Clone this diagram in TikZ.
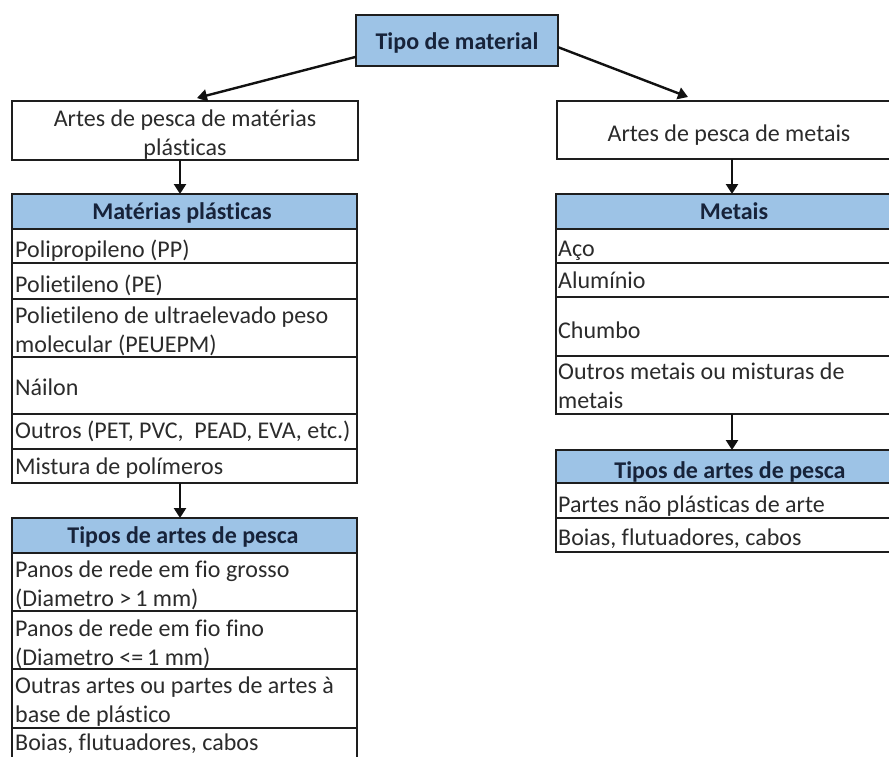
\documentclass[tikz,border=0pt]{standalone}
\usepackage{fontspec}
\setmainfont{Carlito}[Ligatures=NoCommon]
\usetikzlibrary{arrows.meta,calc}
\definecolor{hdrblue}{HTML}{9DC3E6}
\definecolor{txtc}{HTML}{2B2B2B}
\definecolor{hdrtxt}{HTML}{17233A}
\definecolor{bordc}{HTML}{1E1E1E}
\definecolor{arrc}{HTML}{111111}
\begin{document}
\begin{tikzpicture}[x=1pt,y=-1pt,
  every node/.style={font=\fontsize{24}{29}\selectfont},
  cell/.style={draw=bordc, line width=1.3pt, fill=white, anchor=north west, inner sep=0pt, outer sep=0pt},
  hdr/.style={cell, fill=hdrblue},
  ctext/.style={anchor=base west, inner sep=0pt, align=left, text=txtc},
  btext/.style={anchor=base, inner sep=0pt, align=center, text=txtc},
  htext/.style={anchor=base, inner sep=0pt, text=hdrtxt, font=\fontsize{24}{29}\selectfont\bfseries},
  arr/.style={draw=arrc, line width=2.4pt, -{Triangle[width=12pt,length=10pt]}},
]
\useasboundingbox (0,0) rectangle (889,756);
\clip (0,0) rectangle (889,756);
\fill[white] (0,0) rectangle (889,756);

% top box
\node[hdr, minimum width=202pt, minimum height=51pt] (top) at (356,15) {};
\node[htext] (ttop) at (457,49) {Tipo de material};

% second level boxes
\node[cell, minimum width=346pt, minimum height=59pt] (abox) at (12,101) {};
\node[btext] (tabox) at (185,155) {Artes de pesca de matérias\\plásticas};
\node[cell, minimum width=360pt, minimum height=58pt] (mbox) at (557,101) {};
\node[btext] (tmbox) at (729,141) {Artes de pesca de metais};

% left table: materias plasticas
\node[hdr, minimum width=345pt, minimum height=35pt] (lh) at (12,194) {};
\node[htext] (tlh) at (182,219) {Matérias plásticas};
\node[cell, minimum width=345pt, minimum height=34pt] (l1) at (12,229) {};
\node[ctext] (tl1) at (15,257) {Polipropileno (PP)};
\node[cell, minimum width=345pt, minimum height=36pt] (l2) at (12,263) {};
\node[ctext] (tl2) at (15,292) {Polietileno (PE)};
\node[cell, minimum width=345pt, minimum height=58pt] (l3) at (12,299) {};
\node[ctext] (tl3) at (15,352) {Polietileno de ultraelevado peso\\molecular (PEUEPM)};
\node[cell, minimum width=345pt, minimum height=57pt] (l4) at (12,357) {};
\node[ctext] (tl4) at (15,395) {Náilon};
\node[cell, minimum width=345pt, minimum height=35pt] (l5) at (12,414) {};
\node[ctext] (tl5) at (15,438) {Outros (PET, PVC,\ \ PEAD, EVA, etc.)};
\node[cell, minimum width=345pt, minimum height=34pt] (l6) at (12,449) {};
\node[ctext] (tl6) at (15,474) {Mistura de polímeros};

% left table: tipos
\node[hdr, minimum width=345pt, minimum height=35pt] (lth) at (12,518) {};
\node[htext] (tlth) at (183,543) {Tipos de artes de pesca};
\node[cell, minimum width=345pt, minimum height=58pt] (lt1) at (12,553) {};
\node[ctext] (tlt1) at (15,606) {Panos de rede em fio grosso\\(Diametro >\,1 mm)};
\node[cell, minimum width=345pt, minimum height=58pt] (lt2) at (12,611) {};
\node[ctext] (tlt2) at (15,665) {Panos de rede em fio fino\\(Diametro <=\,1 mm)};
\node[cell, minimum width=345pt, minimum height=59pt] (lt3) at (12,669) {};
\node[ctext] (tlt3) at (15,722) {Outras artes ou partes de artes à\\base de plástico};
\node[cell, minimum width=345pt, minimum height=34pt] (lt4) at (12,728) {};
\node[ctext] (tlt4) at (15,750) {Boias, flutuadores, cabos};

% right table: metais
\node[hdr, minimum width=360pt, minimum height=35pt] (rh) at (556,194) {};
\node[htext] (trh) at (734,219) {Metais};
\node[cell, minimum width=360pt, minimum height=34pt] (r1) at (556,229) {};
\node[ctext] (tr1) at (558,256) {Aço};
\node[cell, minimum width=360pt, minimum height=34pt] (r2) at (556,263) {};
\node[ctext] (tr2) at (558,288) {Alumínio};
\node[cell, minimum width=360pt, minimum height=59pt] (r3) at (556,297) {};
\node[ctext] (tr3) at (558,338) {Chumbo};
\node[cell, minimum width=360pt, minimum height=58pt] (r4) at (556,356) {};
\node[ctext] (tr4) at (558,408) {Outros metais ou misturas de\\metais};

% right table: tipos
\node[hdr, minimum width=360pt, minimum height=33pt] (rth) at (556,450) {};
\node[htext] (trth) at (730,478) {Tipos de artes de pesca};
\node[cell, minimum width=360pt, minimum height=35pt] (rt1) at (556,483) {};
\node[ctext] (trt1) at (558,512) {Partes não plásticas de arte};
\node[cell, minimum width=360pt, minimum height=34pt] (rt2) at (556,518) {};
\node[ctext] (trt2) at (558,545) {Boias, flutuadores, cabos};

% connectors
\draw[arr] ($(top.south west)!0.18!(top.north west)$) -- ($(abox.north)+(12,-3)$);
\draw[arr] ($(top.south east)!0.37!(top.north east)$) -- ($(mbox.north west)+(131,-4)$);
\draw[arr] ($(abox.south west)+(168,0)$) -- ($(lh.north west)+(168,0)$);
\draw[arr] ($(l6.south west)+(168,0)$) -- ($(lth.north west)+(168,0)$);
\draw[arr] ($(mbox.south west)+(175,0)$) -- ($(rh.north west)+(176,0)$);
\draw[arr] ($(r4.south west)+(176,0)$) -- ($(rth.north west)+(176,0)$);
\end{tikzpicture}
\end{document}
